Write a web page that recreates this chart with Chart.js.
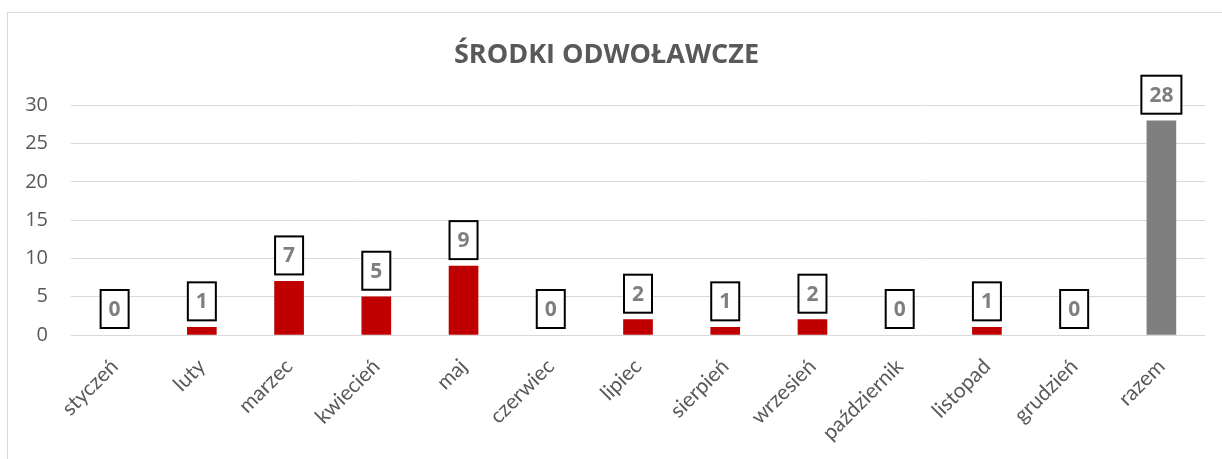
<!DOCTYPE html>
<html>
<head>
<meta charset="utf-8">
<script src="https://cdn.jsdelivr.net/npm/chart.js@4"></script>
<style>
  html, body { margin: 0; padding: 0; background: #fff; overflow: hidden; }
  #box {
    position: absolute; left: 7px; top: 12px;
    width: 1214px; height: 446px;
    border-left: 1px solid #d9d9d9; border-top: 1px solid #d9d9d9;
  }
</style>
</head>
<body>
<div id="box"><canvas id="chart"></canvas></div>
<script>
const months = ['styczeń', 'luty', 'marzec', 'kwiecień', 'maj', 'czerwiec', 'lipiec',
  'sierpień', 'wrzesień', 'październik', 'listopad', 'grudzień', 'razem'];
const counts = [0, 1, 7, 5, 9, 0, 2, 1, 2, 0, 1, 0, 28];
const yTicks = [0, 5, 10, 15, 20, 25, 30];

const FONT = '"Open Sans", sans-serif';
const LABEL_FONT = 'Lato, "Open Sans", sans-serif';

// boxed value above each bar
const boxLabels = {
  id: 'boxLabels',
  afterDatasetsDraw(chart) {
    const ctx = chart.ctx;
    const meta = chart.getDatasetMeta(0);
    ctx.save();
    ctx.font = 'bold 21px ' + FONT;
    ctx.textAlign = 'center';
    ctx.textBaseline = 'middle';
    meta.data.forEach((bar, i) => {
      const txt = String(counts[i]);
      const w = ctx.measureText(txt).width + 16;
      const h = 38;
      const bottom = bar.y - 7;
      ctx.fillStyle = '#fff';
      ctx.fillRect(bar.x - w / 2, bottom - h, w, h);
      ctx.lineWidth = 2;
      ctx.strokeStyle = '#000';
      ctx.strokeRect(bar.x - w / 2, bottom - h, w, h);
      ctx.fillStyle = '#7f7f7f';
      ctx.fillText(txt, bar.x, bottom - h / 2 + 1);
    });
    ctx.restore();
  }
};

new Chart(document.getElementById('chart'), {
  type: 'bar',
  data: {
    labels: months,
    datasets: [{
      data: counts,
      backgroundColor: counts.map((v, i) =>
        v === 0 ? 'rgba(0,0,0,0)' : (i === counts.length - 1 ? '#7f7f7f' : '#c00000')),
      barThickness: 29
    }]
  },
  options: {
    responsive: true,
    maintainAspectRatio: false,
    animation: false,
    layout: { padding: { left: 0, right: 17, top: 0, bottom: 0 } },
    scales: {
      y: {
        min: 0,
        max: 30,
        afterBuildTicks: (scale) => { scale.ticks = yTicks.map(v => ({ value: v })); },
        afterFit: (scale) => { scale.width = 63; },
        grid: { color: '#d9d9d9', drawTicks: false },
        border: { display: false },
        ticks: { color: '#595959', font: { family: FONT, size: 20 }, padding: 23 }
      },
      x: {
        afterFit: (scale) => { scale.height = 124; },
        grid: { display: false },
        border: { display: false },
        ticks: {
          color: '#595959',
          font: { family: LABEL_FONT, size: 21 },
          minRotation: 45,
          maxRotation: 45,
          autoSkip: false,
          padding: 11
        }
      }
    },
    plugins: {
      legend: { display: false },
      tooltip: { enabled: false },
      title: {
        display: true,
        text: 'ŚRODKI ODWOŁAWCZE',
        color: '#595959',
        font: { family: FONT, size: 27, weight: 'bold' },
        padding: { top: 26, bottom: 34 }
      }
    }
  },
  plugins: [boxLabels]
});
</script>
</body>
</html>
